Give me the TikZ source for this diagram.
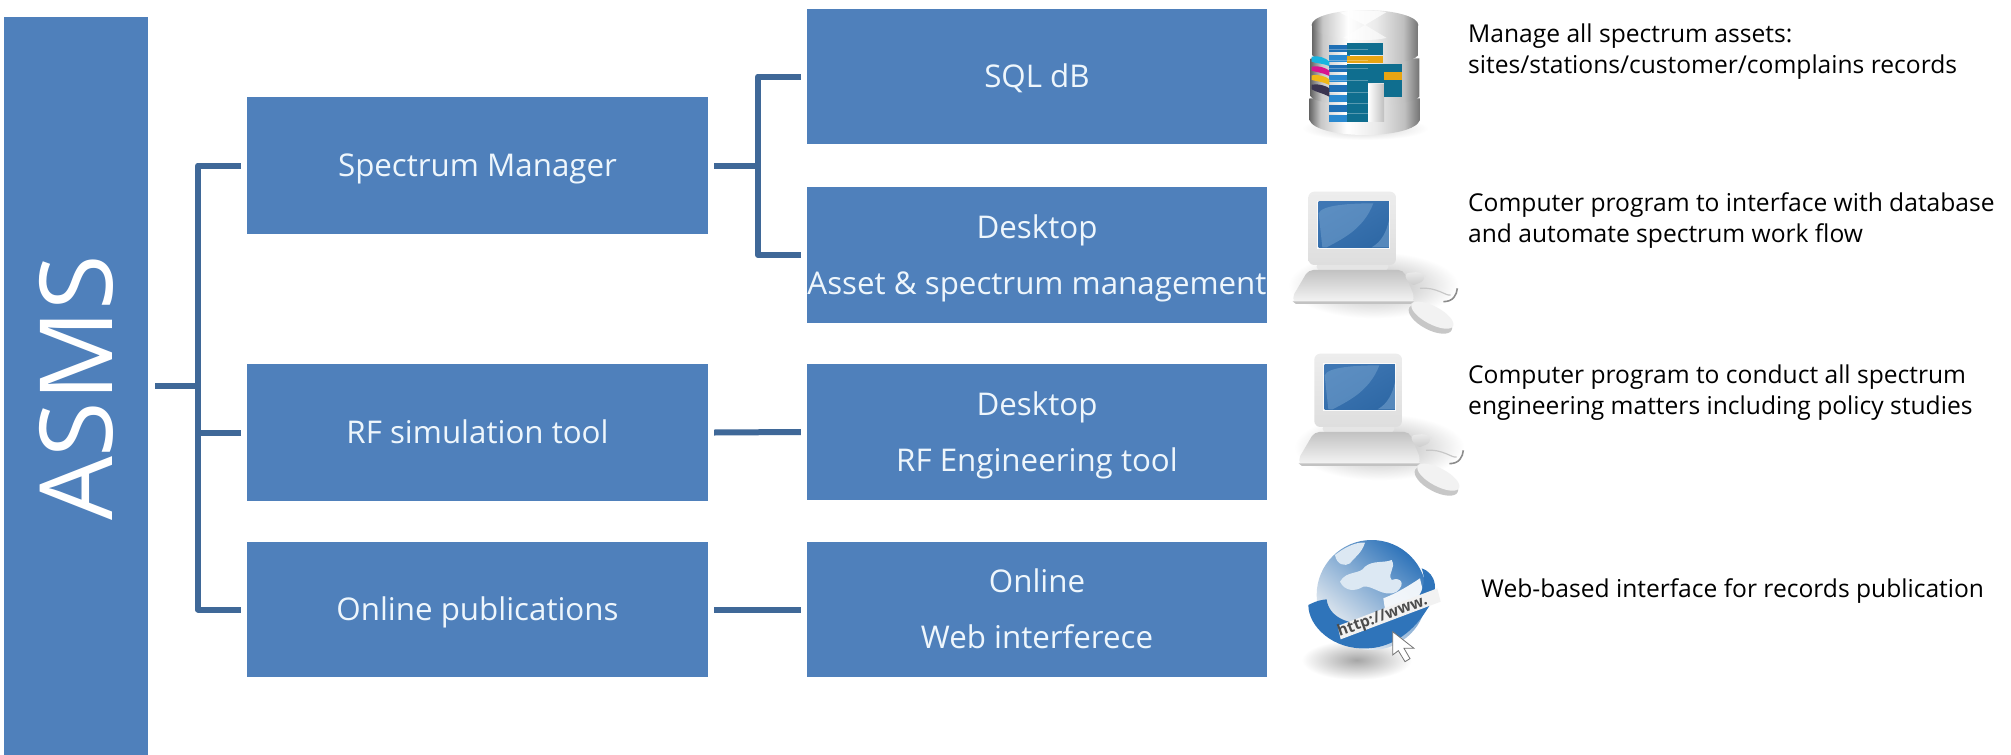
\documentclass[tikz,border=0pt]{standalone}
\usepackage{fontspec}
\usetikzlibrary{calc}
\setmainfont{Open Sans}
\newfontfamily\urlfont[Kerning=Off]{Open Sans}
\definecolor{boxblue}{HTML}{4F80BB}
\definecolor{linkblue}{HTML}{3F6898}
\definecolor{boxtext}{HTML}{EEF6FC}
\definecolor{scrA}{HTML}{3F77B4}
\definecolor{scrB}{HTML}{2F69A6}
\definecolor{scrC}{HTML}{7FAAD3}
\definecolor{dbA}{HTML}{1E6FB5}
\definecolor{dbB}{HTML}{2A89D0}
\definecolor{dbC}{HTML}{0F6E8F}
\definecolor{dbD}{HTML}{E8A512}
\definecolor{dbE}{HTML}{18B4E0}
\definecolor{dbF}{HTML}{D8148E}
\definecolor{dbG}{HTML}{F0B818}
\definecolor{dbH}{HTML}{3A3550}
\definecolor{ringblue}{HTML}{2F74BA}
\definecolor{landpale}{HTML}{DCE8F3}
\pgfdeclarehorizontalshading{silver}{100bp}{
  color(0bp)=(black!60); color(25bp)=(black!60); color(30bp)=(black!22); color(42bp)=(white);
  color(55bp)=(black!8); color(68bp)=(black!25); color(75bp)=(black!55); color(100bp)=(black!55)}
\tikzset{
  bluebox/.style={fill=boxblue,draw=none,inner sep=0pt},
  boxlabel/.style={inner sep=0pt,text=boxtext,align=center,font=\fontsize{31.3}{56}\selectfont},
  link/.style={draw=linkblue,line width=6pt,line join=round},
  note/.style={anchor=west,align=left,inner sep=0pt,text=black,font=\fontsize{24.6}{31}\selectfont},
}
\newcommand{\blockbox}[6]{% name, x0,y0,x1,y1,text
  \node[bluebox,minimum width=#4pt-#2pt,minimum height=#5pt-#3pt] (#1) at ({(#2+#4)/2},{(#3+#5)/2}) {};
  \node[boxlabel,yshift=-3pt] (#1t) at (#1.center) {\vphantom{Ag}#6\vphantom{Ag}};
}
\newcommand{\computericon}[2]{%
\begin{scope}[xshift=#1pt,yshift=-#2pt,x=0.3333pt,y=-0.3333pt]
  \shade[inner color=black!30,outer color=white] (400,345) ellipse [x radius=255,y radius=100];
  \fill[black!10,rounded corners=6pt] (230,275) rectangle (445,305);
  \shade[top color=black!7,bottom color=black!13,rounded corners=6pt] (205,65) rectangle (468,285);
  \fill[black!2] (232,92) rectangle (451,237);
  \shade[left color=scrA,right color=scrB,shading angle=30] (236,96) rectangle (447,232);
  \fill[scrC,opacity=.45] (247,232) -- (236,130) .. controls (245,105) and (330,100) .. (400,100) .. controls (370,180) and (300,210) .. (260,232) -- cycle;
  \fill[scrC,opacity=.5] (447,150) -- (447,232) -- (395,232) .. controls (425,215) and (440,185) .. (447,150) -- cycle;
  \shade[top color=black!24,bottom color=black!3,rounded corners=5pt] (205,300) -- (490,300) -- (525,385) -- (512,402) -- (168,402) -- (155,385) -- cycle;
  \fill[black!24] (168,402) -- (512,402) -- (522,394) -- (158,394) -- cycle;
  \shade[top color=black!8,bottom color=black!20,rounded corners=6pt] (490,310) -- (545,305) -- (560,325) -- (530,345) -- (510,345) -- cycle;
  \draw[black!45,line width=1.6pt] (610,395) .. controls (640,395) and (650,375) .. (652,355);
  \draw[black!22,line width=1.2pt] (540,355) .. controls (590,350) and (620,380) .. (632,375);
  \fill[black!22,rotate around={-28:(575,440)}] (575,448) ellipse [x radius=72,y radius=32];
  \fill[black!5,rotate around={-28:(575,440)}] (575,435) ellipse [x radius=70,y radius=27];
\end{scope}}
\begin{document}
\begin{tikzpicture}[x=1pt,y=-1pt]
\useasboundingbox (0,0) rectangle (2011,755);
\fill[white] (0,0) rectangle (2011,755);
% main boxes
\node[bluebox,minimum width=144pt,minimum height=738pt] (asms) at (76,386) {};
\node[text=white,font=\fontsize{101}{101}\selectfont,rotate=90,inner sep=0pt] (asmstext) at (76,388) {ASMS};
\blockbox{sm}{247}{97}{708}{234}{Spectrum Manager}
\blockbox{rf}{247}{364}{708}{501}{RF simulation tool}
\blockbox{op}{247}{542}{708}{677}{Online publications}
\blockbox{sql}{807}{9}{1267}{144}{SQL dB}
\blockbox{dt}{807}{187}{1267}{323}{Desktop\\Asset \& spectrum management}
\blockbox{rfd}{807}{364}{1267}{500}{Desktop\\RF Engineering tool}
\blockbox{web}{807}{542}{1267}{677}{Online\\Web interferece}
% connectors
\coordinate (a0) at ($(asms.east)+(7,0)$);
\coordinate (a2) at ($(sm.west)+(-6,0)$);
\coordinate (a3) at ($(rf.west)+(-6,0)$);
\coordinate (a4) at ($(op.west)+(-6,0)$);
\coordinate (a1) at (198,0);
\draw[link] (a2) -- (a1 |- a2) -- (a1 |- a4) -- (a4);
\draw[link] (a0) -- (a1 |- a0);
\draw[link] (a1 |- a3) -- (a3);
\coordinate (b0) at ($(sm.east)+(6,0)$);
\coordinate (b2) at ($(sql.west)+(-6,0)$);
\coordinate (b3) at ($(dt.west)+(-6,0)$);
\coordinate (b1) at (758,0);
\draw[link] (b2) -- (b1 |- b2) -- (b1 |- b3) -- (b3);
\draw[link] (b0) -- (b1 |- b0);
\draw[link] ($(rf.east)+(6,0)$) -- ($(rfd.west)+(-6,0)$);
\draw[link] ($(op.east)+(6,0)$) -- ($(web.west)+(-6,0)$);
% notes
\node[note] (n1) at (1468,52) {Manage all spectrum assets:\\sites/stations/customer/complains records};
\node[note] (n2) at (1468,221) {Computer program to interface with database\\and automate spectrum work flow};
\node[note] (n3) at (1468,393) {Computer program to conduct all spectrum\\engineering matters including policy studies};
\node[note] (n4) at (1481,591) {Web-based interface for records publication};
% database icon
\begin{scope}[xshift=1240pt,x=0.3333pt,y=-0.3333pt]
  \shade[inner color=black!18,outer color=white] (375,385) ellipse [x radius=190,y radius=35];
  \shade[shading=silver] (208,295) -- (208,360) .. controls (230,420) and (520,420) .. (540,360) -- (540,295) -- cycle;
  \shade[shading=silver] (212,175) -- (212,290) .. controls (240,325) and (510,325) .. (538,290) -- (538,175) -- cycle;
  \shade[shading=silver] (216,75) -- (216,165) .. controls (240,205) and (510,205) .. (535,165) -- (535,75) -- cycle;
  \shade[shading=silver] (375,75) ellipse [x radius=160,y radius=45];
  \fill[white,opacity=.75] (375,75) -- (300,38) .. controls (330,30) and (400,30) .. (440,36) -- cycle;
  \fill[white,opacity=.6] (375,75) -- (310,114) .. controls (350,122) and (400,122) .. (440,114) -- cycle;
  % coloured stacks
  \shade[left color=white,right color=black!25] (385,255) rectangle (432,365);
  \foreach \yy/\cc in {135/dbA,165/dbB,195/dbA,225/dbB,255/dbA,285/dbB,315/dbA,345/dbB}{
    \fill[fill=\cc] (268,\yy) rectangle (330,\yy+20);
  }
  \fill[dbC] (322,130) rectangle (430,165);
  \fill[dbD] (322,167) rectangle (430,190);
  \fill[dbC] (322,192) rectangle (485,215);
  \fill[dbC] (322,217) rectangle (485,250);
  \fill[dbD] (432,217) rectangle (485,240);
  \fill[dbC] (322,250) rectangle (385,365);
  \fill[dbC] (432,250) rectangle (485,290);
  \foreach \yy in {147,180,205,240,275,310,340}{\fill[white,opacity=.3] (268,\yy) rectangle (385,\yy+2);}
  \fill[dbE] (215,170) .. controls (235,165) and (260,175) .. (268,185) -- (268,198) .. controls (250,190) and (225,190) .. (215,185) -- cycle;
  \fill[dbF] (215,200) .. controls (235,195) and (260,205) .. (268,212) -- (268,228) .. controls (250,218) and (225,216) .. (215,212) -- cycle;
  \fill[dbG] (215,226) .. controls (235,222) and (260,230) .. (268,238) -- (268,255) .. controls (250,245) and (225,243) .. (215,240) -- cycle;
  \fill[dbH] (215,254) .. controls (235,250) and (260,258) .. (268,265) -- (268,290) .. controls (250,280) and (225,275) .. (215,268) -- cycle;
\end{scope}
% computer icons
\computericon{1240}{170}
\computericon{1246}{332}
% globe icon
\begin{scope}[xshift=1240pt,yshift=-520pt,x=0.3333pt,y=-0.3333pt]
  \shade[inner color=black!35,outer color=white] (350,420) ellipse [x radius=165,y radius=60];
  \shade[left color=ringblue,right color=black!4,shading angle=-40] (395,225) circle [radius=165];
  % continents
  \fill[landpale] (300,185) .. controls (320,150) and (360,165) .. (375,140) .. controls (400,120) and (430,130) .. (455,120) .. controls (470,145) and (440,160) .. (455,180) .. controls (480,170) and (500,190) .. (470,215) .. controls (430,235) and (400,195) .. (370,200) .. controls (345,215) and (315,215) .. (300,185) -- cycle;
  \fill[landpale] (285,105) .. controls (310,85) and (345,65) .. (375,68) .. controls (365,100) and (345,110) .. (330,130) .. controls (315,140) and (290,135) .. (285,105) -- cycle;
  \fill[white,opacity=.9] (430,235) .. controls (470,220) and (510,195) .. (540,175) -- (555,240) -- (440,300) -- cycle;
  % ring
  \fill[ringblue] (205,255) .. controls (235,240) and (245,240) .. (260,238) .. controls (265,290) and (330,330) .. (440,300) .. controls (520,270) and (570,210) .. (545,145) .. controls (590,160) and (600,215) .. (560,270) .. controls (510,350) and (440,385) .. (380,385) .. controls (280,390) and (205,320) .. (205,255) -- cycle;
  \fill[black!5] (293,318) -- (592,205) -- (602,245) -- (302,358) -- cycle;
  \node[font=\urlfont\bfseries\fontsize{15.5}{16}\selectfont,text=black!70,rotate=20,inner sep=0pt] (urltext) at (428,290) {http://www.};
  \fill[white,draw=black!55,line width=0.8pt] (458,335) -- (458,405) -- (475,392) -- (495,425) -- (510,416) -- (492,385) -- (522,385) -- cycle;
\end{scope}
\end{tikzpicture}
\end{document}
